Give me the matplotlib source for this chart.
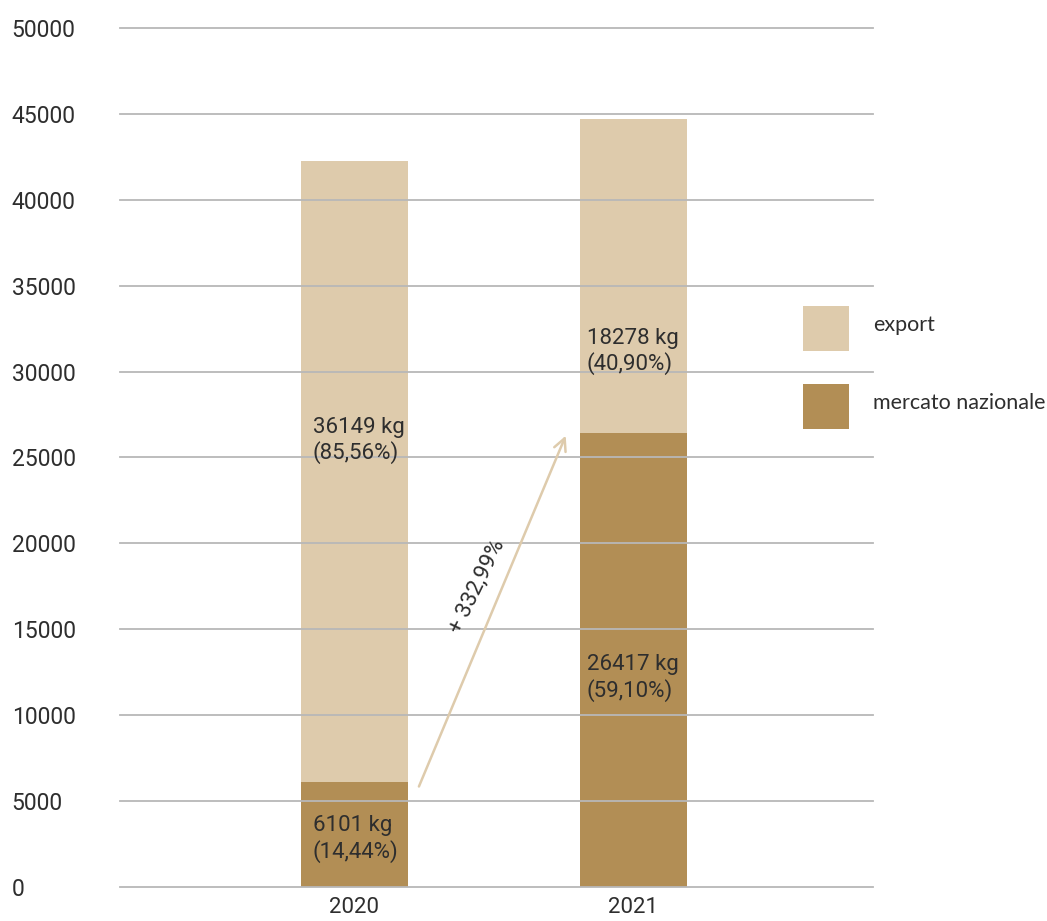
import matplotlib
matplotlib.use('Agg')
import matplotlib.pyplot as plt
from matplotlib.patches import Rectangle
import numpy as np

years = ['2020', '2021']
mercato = [6101, 26417]
export = [36149, 18278]
mercato_pct = ['14,44%', '59,10%']
export_pct = ['85,56%', '40,90%']
growth_label = '+ 332,99%'
legend_labels = ['export', 'mercato nazionale']

light = '#decbac'
dark = '#b28e55'
txt = '#2e2e2e'

plt.rcParams['font.family'] = ['Roboto', 'DejaVu Sans']

fig = plt.figure(figsize=(10.47, 9.21), dpi=100)
ax = fig.add_axes([120 / 1047, 1 - 887 / 921, (873 - 120) / 1047, (887 - 28) / 921])

x = np.arange(len(years))
w = 0.384
ax.bar(x, mercato, w, color=dark, zorder=1)
ax.bar(x, export, w, bottom=mercato, color=light, zorder=1)

ax.set_xlim(-0.84, 1.86)
ax.set_ylim(0, 50000)
ax.set_yticks(np.arange(0, 50001, 5000))
ax.grid(axis='y', color='#b8b8b8', linewidth=1.3, zorder=3)
ax.set_axisbelow(False)
for gl in ax.get_ygridlines():
    gl.set_clip_on(False)
for s in ax.spines.values():
    s.set_visible(False)

ax.set_xticks(x)
ax.set_xticklabels(years)
ax.tick_params(axis='x', length=0, pad=7, labelsize=16, labelcolor=txt)
ax.tick_params(axis='y', length=0, pad=78, labelsize=16.5, labelcolor=txt)
for lab in ax.get_yticklabels():
    lab.set_horizontalalignment('left')

# value labels inside the bars
dx = [12 / 279, 7 / 279]
frac_light = [0.55, 0.26]
frac_dark = [0.46, 0.46]
for i in range(len(years)):
    left = x[i] - w / 2 + dx[i]
    ax.text(left, mercato[i] + export[i] * frac_light[i],
            f'{export[i]} kg\n({export_pct[i]})', ha='left', va='center',
            fontsize=16, color=txt, linespacing=1.2, zorder=4)
    ax.text(left, mercato[i] * frac_dark[i],
            f'{mercato[i]} kg\n({mercato_pct[i]})', ha='left', va='center',
            fontsize=16, color=txt, linespacing=1.2, zorder=4)

# growth arrow
ax.annotate('', xy=(0.762, mercato[1]), xytext=(0.228, mercato[0] - 400),
            arrowprops=dict(arrowstyle='->', color=light, lw=1.8,
                            mutation_scale=22), zorder=5)
ax.text(0.44, 17500, growth_label, rotation=64, ha='center', va='center',
        fontsize=16, color=txt, zorder=5)

# legend
W, H = 1047, 921
for k, (lab, col) in enumerate(zip(legend_labels, [light, dark])):
    top = 306 + 78 * k
    fig.add_artist(Rectangle((803 / W, 1 - (top + 45) / H), 46 / W, 45 / H,
                             facecolor=col, edgecolor='none', transform=fig.transFigure))
    fig.text(873 / W, 1 - (top + 19) / H, lab, ha='left', va='center',
             fontsize=15.5, color=txt, family=['Lato', 'DejaVu Sans'])

fig.savefig('out.png', dpi=100)
